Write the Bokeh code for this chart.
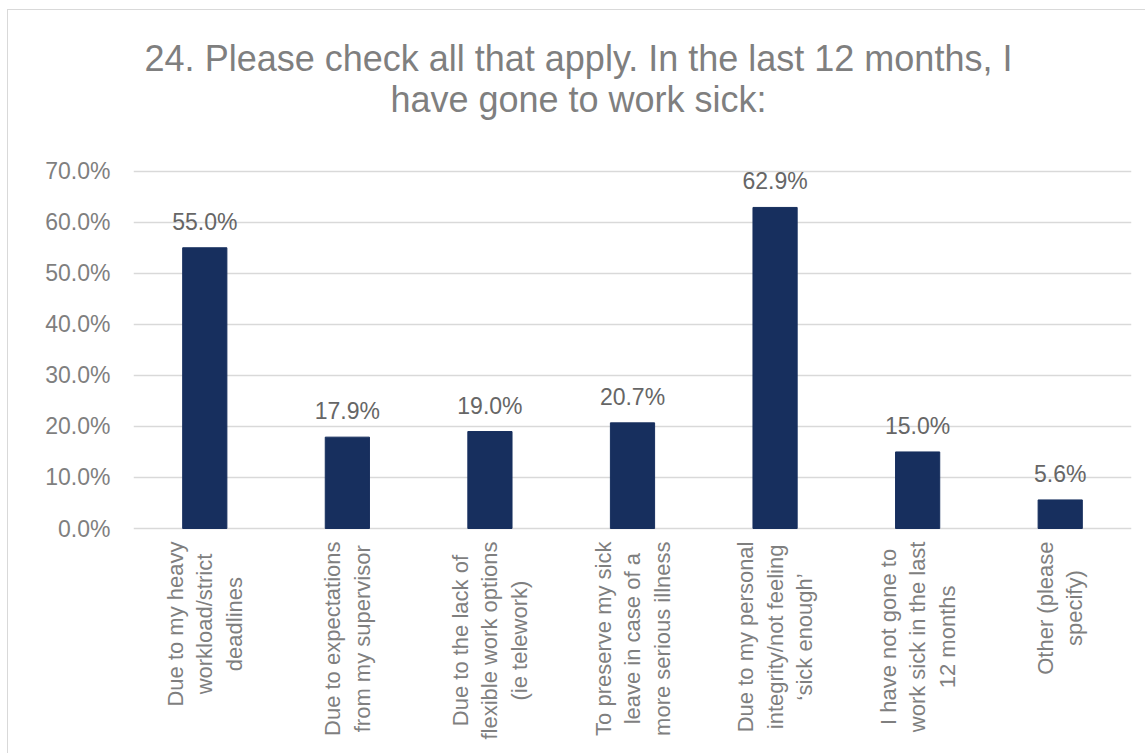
import math
from bokeh.plotting import figure
from bokeh.models import ColumnDataSource, FixedTicker, Range1d, Div, CustomJSTickFormatter
from bokeh.layouts import column
from bokeh.core.properties import value
from bokeh.embed import file_html
from bokeh.resources import INLINE

title_lines = ["24. Please check all that apply. In the last 12 months, I",
               "have gone to work sick:"]
categories = [
    "Due to my heavy\nworkload/strict\ndeadlines",
    "Due to expectations\nfrom my supervisor",
    "Due to the lack of\nflexible work options\n(ie telework)",
    "To preserve my sick\nleave in case of a\nmore serious illness",
    "Due to my personal\nintegrity/not feeling\n\u2018sick enough\u2019",
    "I have not gone to\nwork sick in the last\n12 months",
    "Other (please\nspecify)",
]
keys = ["c%d" % i for i in range(len(categories))]
values = [55.0, 17.9, 19.0, 20.7, 62.9, 15.0, 5.6]
y_ticks = [0, 10, 20, 30, 40, 50, 60, 70]

FONT = "Liberation Sans"

src = ColumnDataSource(dict(
    x=keys,
    y=values,
    label=["%.1f%%" % v for v in values],
    cat=categories,
    zero=[0] * len(values),
))

title_div = Div(
    text=('<div style="padding-top:23px;text-align:center;font-family:\'Liberation Sans\';'
          'font-size:36px;line-height:41px;color:#7f7f7f;white-space:nowrap;">'
          + "<br>".join(title_lines) + "</div>"),
    width=1131, height=119,
    styles={"width": "1131px", "text-align": "center"},
)

p = figure(
    width=1131, height=618,
    x_range=keys,
    y_range=Range1d(-44.86, 76.21),
    x_axis_location=None,
    toolbar_location=None,
    output_backend="svg",
    min_border_left=125, min_border_right=8, min_border_top=0, min_border_bottom=0,
)
p.outline_line_color = None
p.background_fill_color = "white"
p.border_fill_color = "white"

p.vbar(x="x", top="y", width=0.31, source=src, fill_color="#172F5E", line_color="#172F5E")

p.text(x="x", y="y", text="label", source=src, y_offset=-26,
       text_align="center", text_baseline="alphabetic",
       text_font=value(FONT), text_font_size="23px", text_color="#666666")

p.text(x="x", y="zero", text="cat", source=src, y_offset=13, angle=math.pi / 2,
       anchor="center_right", text_align="center", text_baseline="middle",
       text_line_height=1.18,
       text_font=value(FONT), text_font_size="22px", text_color="#7f7f7f")

p.yaxis.ticker = FixedTicker(ticks=y_ticks)
p.yaxis.formatter = CustomJSTickFormatter(code="return tick.toFixed(1) + '%';")
p.yaxis.axis_line_color = None
p.yaxis.major_tick_line_color = None
p.yaxis.minor_tick_line_color = None
p.yaxis.major_label_text_font = FONT
p.yaxis.major_label_text_font_size = "23px"
p.yaxis.major_label_text_color = "#7f7f7f"
p.yaxis.major_label_standoff = 17

p.xgrid.grid_line_color = None
p.ygrid.ticker = FixedTicker(ticks=y_ticks)
p.ygrid.grid_line_color = "#d9d9d9"
p.ygrid.grid_line_width = 1.5

layout = column(title_div, p, spacing=0,
                styles={"border": "1px solid #d9d9d9", "margin-left": "7px",
                        "margin-top": "9px", "background-color": "white"})

open("out.html", "w").write(file_html(layout, INLINE))
